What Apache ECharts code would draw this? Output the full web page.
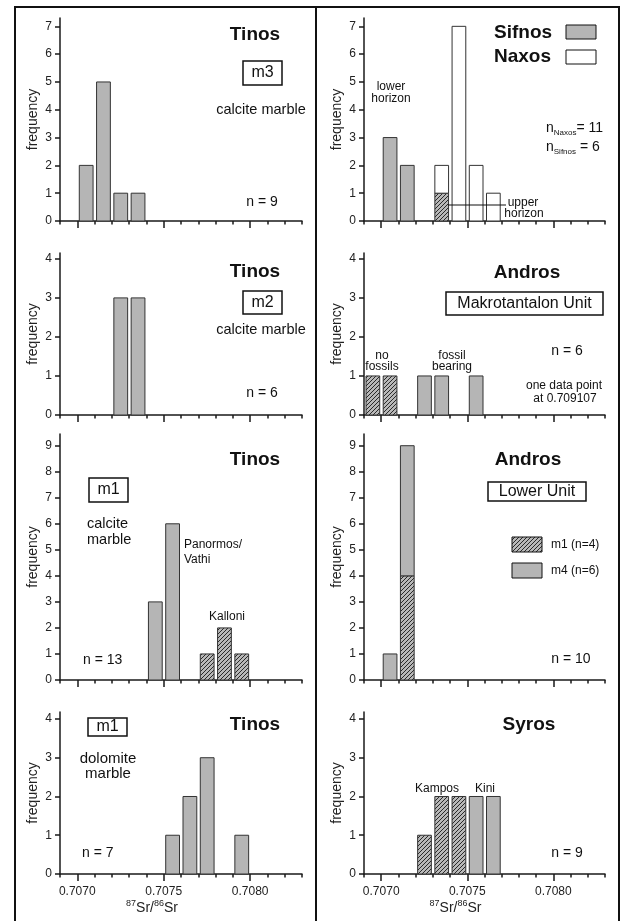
<!DOCTYPE html>
<html><head><meta charset="utf-8">
<script src="https://cdn.jsdelivr.net/npm/echarts@6/dist/echarts.min.js"></script>
<style>html,body{margin:0;padding:0;background:#fff}#c{width:622px;height:921px}</style>
</head><body><div id="c"></div>
<script>
// ---------- data ----------
const BIN = 0.0001;
const xRange = [0.7069, 0.7083];
const xMajorTicks = [0.7070, 0.7075, 0.7080];
const xMinorTicks = [0.7069, 0.7070, 0.7071, 0.7072, 0.7073, 0.7074, 0.7075, 0.7076, 0.7077, 0.7078, 0.7079, 0.7080, 0.7081, 0.7082, 0.7083];
const yTicks7 = [0, 1, 2, 3, 4, 5, 6, 7];
const yTicks4 = [0, 1, 2, 3, 4];
const yTicks9 = [0, 1, 2, 3, 4, 5, 6, 7, 8, 9];

// Tinos m3 calcite marble
const tinosM3Bins = [0.7070, 0.7071, 0.7072, 0.7073];
const tinosM3Counts = [2, 5, 1, 1];
// Sifnos / Naxos
const sifnosLowerBins = [0.7070, 0.7071];
const sifnosLowerCounts = [3, 2];
const sifnosUpperBins = [0.7073];
const sifnosUpperCounts = [1];
const naxosBins = [0.7073, 0.7074, 0.7075, 0.7076];
const naxosCounts = [1, 7, 2, 1];
// Tinos m2 calcite marble
const tinosM2Bins = [0.7072, 0.7073];
const tinosM2Counts = [3, 3];
// Andros Makrotantalon Unit
const androsNoFossilBins = [0.7069, 0.7070];
const androsNoFossilCounts = [1, 1];
const androsFossilBins = [0.7072, 0.7073, 0.7075];
const androsFossilCounts = [1, 1, 1];
// Tinos m1 calcite marble
const tinosPanormosBins = [0.7074, 0.7075];
const tinosPanormosCounts = [3, 6];
const tinosKalloniBins = [0.7077, 0.7078, 0.7079];
const tinosKalloniCounts = [1, 2, 1];
// Andros Lower Unit
const androsM1Bins = [0.7071];
const androsM1Counts = [4];
const androsM4Bins = [0.7070, 0.7071];
const androsM4Counts = [1, 5];
// Tinos m1 dolomite marble
const tinosDoloBins = [0.7075, 0.7076, 0.7077, 0.7079];
const tinosDoloCounts = [1, 2, 3, 1];
// Syros
const syrosKamposBins = [0.7072, 0.7073, 0.7074];
const syrosKamposCounts = [1, 2, 2];
const syrosKiniBins = [0.7075, 0.7076];
const syrosKiniCounts = [2, 2];

// ---------- styles ----------
const FONT = "'Liberation Sans', Arial, Helvetica, sans-serif";
const INK = '#1a1a1a';
const GREY = '#b5b5b5';
function makeHatch() {
  const c = document.createElement('canvas'); c.width = 4; c.height = 4;
  const g = c.getContext('2d');
  g.fillStyle = '#b8b8b8'; g.fillRect(0, 0, 4, 4);
  g.strokeStyle = '#2a2a2a'; g.lineWidth = 1;
  g.beginPath();
  g.moveTo(0, 4); g.lineTo(4, 0);
  g.moveTo(-1, 1); g.lineTo(1, -1);
  g.moveTo(3, 5); g.lineTo(5, 3);
  g.stroke();
  return c;
}
const HATCH = { image: makeHatch(), repeat: 'repeat' };
const FILLS = { grey: GREY, hatch: HATCH, white: '#ffffff' };

const L = { left: 60, width: 242 }, R = { left: 364, width: 241 };
const rows = [
  { top: 18, height: 203 },
  { top: 253, height: 162 },
  { top: 434, height: 246 },
  { top: 712, height: 162 }
];

const panels = [
  { col: L, row: 0, yMax: 7.3, yTicks: yTicks7, layers: [[tinosM3Bins, tinosM3Counts, 'grey']] },
  { col: R, row: 0, yMax: 7.3, yTicks: yTicks7, layers: [[sifnosLowerBins, sifnosLowerCounts, 'grey'], [sifnosUpperBins, sifnosUpperCounts, 'hatch'], [naxosBins, naxosCounts, 'white']] },
  { col: L, row: 1, yMax: 4.15, yTicks: yTicks4, layers: [[tinosM2Bins, tinosM2Counts, 'grey']] },
  { col: R, row: 1, yMax: 4.15, yTicks: yTicks4, layers: [[androsNoFossilBins, androsNoFossilCounts, 'hatch'], [androsFossilBins, androsFossilCounts, 'grey']] },
  { col: L, row: 2, yMax: 9.45, yTicks: yTicks9, layers: [[tinosPanormosBins, tinosPanormosCounts, 'grey'], [tinosKalloniBins, tinosKalloniCounts, 'hatch']] },
  { col: R, row: 2, yMax: 9.45, yTicks: yTicks9, layers: [[androsM1Bins, androsM1Counts, 'hatch'], [androsM4Bins, androsM4Counts, 'grey']] },
  { col: L, row: 3, yMax: 4.18, yTicks: yTicks4, showX: true, layers: [[tinosDoloBins, tinosDoloCounts, 'grey']] },
  { col: R, row: 3, yMax: 4.18, yTicks: yTicks4, showX: true, layers: [[syrosKamposBins, syrosKamposCounts, 'hatch'], [syrosKiniBins, syrosKiniCounts, 'grey']] }
];

const axisLineStyle = { color: INK, width: 1.5 };
const grid = [], xAxis = [], yAxis = [], series = [];

panels.forEach((p, i) => {
  grid.push({ left: p.col.left, width: p.col.width, top: rows[p.row].top, height: rows[p.row].height });
  xAxis.push({
    type: 'value', gridIndex: i, min: xRange[0], max: xRange[1], position: 'bottom',
    axisLine: { show: true, onZero: false, lineStyle: axisLineStyle },
    axisTick: { show: true, customValues: xMajorTicks, length: 7, lineStyle: axisLineStyle },
    axisLabel: { show: !!p.showX, customValues: xMajorTicks, formatter: v => Number(v).toFixed(4), fontSize: 12, color: '#222', margin: 12, fontFamily: FONT },
    splitLine: { show: false },
    name: p.showX ? '{sup|87}{b|Sr/}{sup|86}{b|Sr}' : '',
    nameLocation: 'middle', nameGap: 24,
    nameTextStyle: {
      padding: [0, 58, 0, 0], fontFamily: FONT, color: '#222',
      rich: {
        b: { fontSize: 14, lineHeight: 18, fontFamily: FONT, color: '#222' },
        sup: { fontSize: 9, verticalAlign: 'top', fontFamily: FONT, color: '#222' }
      }
    }
  });
  xAxis.push({
    type: 'value', gridIndex: i, min: xRange[0], max: xRange[1], position: 'bottom',
    axisLine: { show: false, onZero: false },
    axisTick: { show: true, customValues: xMinorTicks, length: 3.5, lineStyle: axisLineStyle },
    axisLabel: { show: false },
    splitLine: { show: false }
  });
  yAxis.push({
    type: 'value', gridIndex: i, min: 0, max: p.yMax,
    axisLine: { show: true, lineStyle: axisLineStyle },
    axisTick: { show: true, customValues: p.yTicks, length: 5, lineStyle: axisLineStyle },
    axisLabel: { customValues: p.yTicks, fontSize: 12, color: '#222', margin: 8, fontFamily: FONT },
    splitLine: { show: false },
    name: 'frequency', nameLocation: 'middle', nameGap: 20,
    nameTextStyle: { fontSize: 14, color: '#222', fontFamily: FONT }
  });
  const stack = {};
  p.layers.forEach(([bins, counts, kind]) => {
    const data = bins.map((b, j) => {
      const k = Math.round(b / BIN);
      const base = stack[k] || 0;
      stack[k] = base + counts[j];
      return [b, counts[j], base];
    });
    series.push({
      type: 'custom', xAxisIndex: 2 * i, yAxisIndex: i,
      encode: { x: 0, y: 1 },
      data,
      renderItem: (params, api) => {
        const x0 = api.value(0), c = api.value(1), b = api.value(2);
        const p0 = api.coord([x0, b + c]);
        const p1 = api.coord([x0 + BIN, b]);
        return {
          type: 'rect',
          shape: { x: p0[0] + 2, y: p0[1], width: p1[0] - p0[0] - 3.5, height: p1[1] - p0[1] },
          style: { fill: FILLS[kind], stroke: '#333', lineWidth: 1 }
        };
      }
    });
  });
});

// ---------- annotations ----------
function T(text, x, y, size, opt) {
  opt = opt || {};
  return {
    type: 'text', x: x, y: y, z: 10,
    style: {
      text: text, fontSize: size, fontFamily: FONT, fontWeight: opt.bold ? 'bold' : 'normal',
      fill: '#111', align: opt.align || 'center', verticalAlign: 'middle',
      textAlign: opt.align || 'center', textVerticalAlign: 'middle', rich: opt.rich
    }
  };
}
function Box(x, y, w, h, fill, lw) {
  return { type: 'rect', z: 10, shape: { x: x, y: y, width: w, height: h }, style: { fill: fill || '#fff', stroke: '#111', lineWidth: lw || 1.5 } };
}
const subRich = {
  n: { fontSize: 14, lineHeight: 18, fontFamily: FONT, color: '#111' },
  s: { fontSize: 8, verticalAlign: 'bottom', fontFamily: FONT, color: '#111' }
};

const graphic = [
  // frame
  { type: 'polyline', z: 20, shape: { points: [[15, 940], [15, 7], [619, 7], [619, 940]] }, style: { fill: null, stroke: '#111', lineWidth: 2 } },
  { type: 'line', z: 20, shape: { x1: 316, y1: 7, x2: 316, y2: 940 }, style: { stroke: '#111', lineWidth: 2 } },

  // panel 1
  T('Tinos', 255, 35, 19, { bold: true }),
  Box(243, 61, 39, 24), T('m3', 262.5, 73, 16),
  T('calcite marble', 261, 110, 14.5),
  T('n = 9', 262, 202, 14),

  // panel 2
  T('Sifnos', 494, 33, 19, { bold: true, align: 'left' }),
  T('Naxos', 494, 57, 19, { bold: true, align: 'left' }),
  Box(566, 25, 30, 14, GREY, 1), Box(566, 50, 30, 14, '#fff', 1),
  T('lower', 391, 87, 12), T('horizon', 391, 99, 12),
  T('{n|n}{s|Naxos}{n|= 11}', 546, 128, 14, { align: 'left', rich: subRich }),
  T('{n|n}{s|Sifnos}{n| = 6}', 546, 147, 14, { align: 'left', rich: subRich }),
  { type: 'line', z: 10, shape: { x1: 448, y1: 205, x2: 506, y2: 205 }, style: { stroke: '#111', lineWidth: 1.2 } },
  T('upper', 523, 203, 12), T('horizon', 524, 214, 12),

  // panel 3
  T('Tinos', 255, 272, 19, { bold: true }),
  Box(243, 291, 39, 23), T('m2', 262.5, 302.5, 16),
  T('calcite marble', 261, 330, 14.5),
  T('n = 6', 262, 393, 14),

  // panel 4
  T('Andros', 527, 273, 19, { bold: true }),
  Box(446, 292, 157, 23), T('Makrotantalon Unit', 524.5, 303.5, 16),
  T('n = 6', 567, 351, 14),
  T('one data point', 564, 386, 12), T('at 0.709107', 565, 399, 12),
  T('no', 382, 356, 12), T('fossils', 382, 367, 12),
  T('fossil', 452, 356, 12), T('bearing', 452, 367, 12),

  // panel 5
  T('Tinos', 255, 460, 19, { bold: true }),
  Box(89, 478, 39, 24), T('m1', 108.5, 490, 16),
  T('calcite', 87, 524, 14.5, { align: 'left' }), T('marble', 87, 540, 14.5, { align: 'left' }),
  T('Panormos/', 184, 545, 12, { align: 'left' }), T('Vathi', 184, 560, 12, { align: 'left' }),
  T('Kalloni', 227, 617, 12),
  T('n = 13', 83, 660, 14, { align: 'left' }),

  // panel 6
  T('Andros', 528, 460, 19, { bold: true }),
  Box(488, 482, 98, 19), T('Lower Unit', 537, 491.5, 16),
  Box(512, 537, 30, 15, HATCH, 1), T('m1 (n=4)', 551, 544.5, 12, { align: 'left' }),
  Box(512, 563, 30, 15, GREY, 1), T('m4 (n=6)', 551, 571, 12, { align: 'left' }),
  T('n = 10', 571, 659, 14),

  // panel 7
  T('Tinos', 255, 725, 19, { bold: true }),
  Box(88, 718, 39, 18), T('m1', 107.5, 727, 16),
  T('dolomite', 108, 759, 15), T('marble', 108, 774, 15),
  T('n = 7', 82, 853, 14, { align: 'left' }),

  // panel 8
  T('Syros', 529, 725, 19, { bold: true }),
  T('Kampos', 437, 789, 12), T('Kini', 485, 789, 12),
  T('n = 9', 567, 853, 14)
];

const chart = echarts.init(document.getElementById('c'), null, { renderer: 'canvas' });
chart.setOption({
  backgroundColor: '#fff',
  animation: false,
  textStyle: { fontFamily: FONT },
  grid, xAxis, yAxis, series, graphic
});
</script></body></html>
